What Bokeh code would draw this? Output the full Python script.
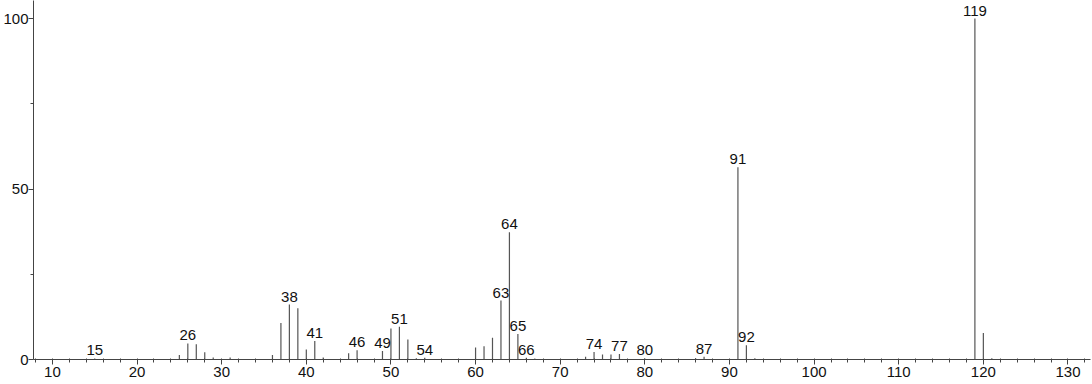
from bokeh.plotting import figure
from bokeh.models import ColumnDataSource, FixedTicker, Range1d
from bokeh.core.properties import value
from bokeh.embed import file_html
from bokeh.resources import INLINE

# m/z values and relative intensities (%)
mz = [15, 25, 26, 27, 28, 29, 31, 36, 37, 38, 39, 40, 41, 42, 45, 46, 49, 50,
      51, 52, 53, 54, 60, 61, 62, 63, 64, 65, 66, 67, 73, 74, 75, 76, 77, 80,
      86, 87, 91, 92, 93, 119, 120, 121]
intensity = [0.3, 1.3, 4.7, 4.5, 2.1, 0.6, 0.6, 1.3, 10.7, 16.1, 15.0, 2.9,
             5.4, 0.6, 1.8, 2.7, 2.5, 9.1, 9.6, 5.9, 0.4, 0.5, 3.5, 3.9, 6.4,
             17.3, 37.3, 7.5, 0.5, 0.3, 0.8, 2.2, 1.5, 1.5, 1.6, 0.3, 0.4, 0.8,
             56.4, 4.2, 0.4, 100.0, 7.8, 0.4]
labeled_mz = [15, 26, 38, 41, 46, 49, 51, 54, 63, 64, 65, 66, 74, 77, 80, 87,
              91, 92, 119]

x_ticks = [10, 20, 30, 40, 50, 60, 70, 80, 90, 100, 110, 120, 130]
x_minor = list(range(8, 134, 2))
y_ticks = [0, 50, 100]
y_minor = [25, 75]

FONT = "Liberation Sans"

peaks = ColumnDataSource(dict(x=mz, y0=[0] * len(mz), y1=intensity))
lookup = dict(zip(mz, intensity))
labels = ColumnDataSource(dict(
    x=labeled_mz,
    y=[lookup[m] for m in labeled_mz],
    t=[str(m) for m in labeled_mz],
))

p = figure(width=1092, height=384, output_backend="svg", toolbar_location=None,
           x_range=Range1d(7.765, 132.66), y_range=Range1d(0, 105.28),
           min_border_left=30, min_border_right=2, min_border_top=0,
           min_border_bottom=25)
p.xgrid.visible = False
p.ygrid.visible = False
p.outline_line_color = None

p.segment(x0="x", y0="y0", x1="x", y1="y1", source=peaks,
          line_color="#555555", line_width=1.2)
p.text(x="x", y="y", text="t", source=labels, text_align="center",
       text_baseline="alphabetic", y_offset=-8, text_font=value(FONT),
       text_font_size="15px", text_color="#111111")

xa = p.xaxis[0]
xa.ticker = FixedTicker(ticks=x_ticks, minor_ticks=x_minor)
ya = p.yaxis[0]
ya.ticker = FixedTicker(ticks=y_ticks, minor_ticks=y_minor)
for ax in (xa, ya):
    ax.axis_line_color = "#444444"
    ax.major_tick_line_color = "#444444"
    ax.minor_tick_line_color = "#444444"
    ax.major_label_text_font = FONT
    ax.major_label_text_font_size = "15px"
    ax.major_label_text_color = "#111111"
    ax.major_tick_in = 0
xa.major_tick_out = 5
xa.minor_tick_in = 1
xa.minor_tick_out = 3
xa.major_label_standoff = 2
ya.major_tick_out = 5
ya.minor_tick_in = 0
ya.minor_tick_out = 3
ya.major_label_standoff = 0

open("out.html", "w").write(file_html(p, INLINE))
